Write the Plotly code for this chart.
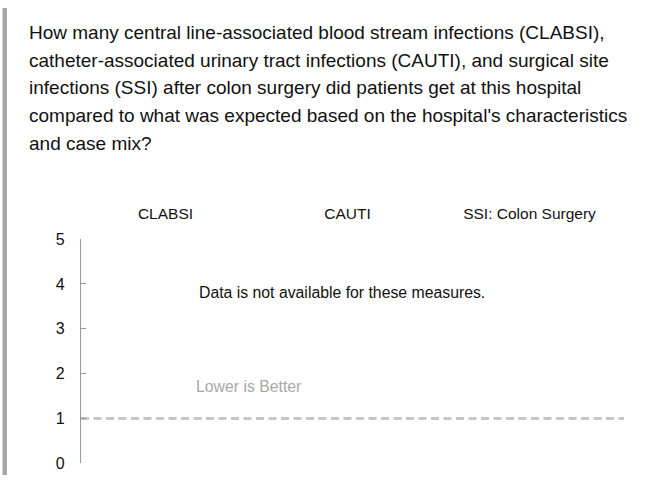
import plotly.graph_objects as go

W, H = 647, 484

title_lines = [
    "How many central line-associated blood stream infections (CLABSI),",
    "catheter-associated urinary tract infections (CAUTI), and surgical site",
    "infections (SSI) after colon surgery did patients get at this hospital",
    "compared to what was expected based on the hospital's characteristics",
    "and case mix?",
]
categories = ["CLABSI", "CAUTI", "SSI: Colon Surgery"]
y_ticks = [0, 1, 2, 3, 4, 5]
reference_value = 1
no_data_message = "Data is not available for these measures."
direction_note = "Lower is Better"

FONT = "Liberation Sans, Arial, sans-serif"

def px_x(p):
    return p / W

def px_y(p):
    return 1 - p / H

X_RANGE = [-0.464, 2.519]

fig = go.Figure()

# reference line (expected = 1)
fig.add_trace(go.Scatter(
    x=X_RANGE, y=[reference_value, reference_value],
    mode="lines", line=dict(color="#c6c6c6", width=3, dash="8px,4.5px"),
    hoverinfo="skip", showlegend=False,
))

annotations = []
for i, line in enumerate(title_lines):
    annotations.append(dict(
        text=line, xref="paper", yref="paper", x=px_x(28), y=px_y(25.5 + 28.7 * i),
        xanchor="left", yanchor="middle", showarrow=False, borderpad=0,
        font=dict(family=FONT, size=19, color="#111111"),
    ))

annotations.append(dict(
    text=no_data_message, xref="x", yref="y", x=0.97, y=3.8,
    xanchor="center", yanchor="middle", showarrow=False,
    font=dict(family=FONT, size=15.8, color="#111111"),
))
annotations.append(dict(
    text=direction_note, xref="x", yref="y", x=0.158, y=1.72,
    xanchor="left", yanchor="middle", showarrow=False,
    font=dict(family=FONT, size=15.8, color="#a8a8a8"),
))

fig.update_layout(
    width=W, height=H,
    margin=dict(l=0, r=0, t=0, b=0),
    paper_bgcolor="white", plot_bgcolor="white",
    showlegend=False,
    annotations=annotations,
    shapes=[dict(type="rect", xref="paper", yref="paper",
                 x0=px_x(2.5), x1=px_x(7), y0=0, y1=1,
                 fillcolor="#a7a7ab", line=dict(width=0), layer="above")],
    xaxis=dict(
        domain=[px_x(81), px_x(624)],
        range=X_RANGE,
        side="top",
        tickmode="array", tickvals=list(range(len(categories))), ticktext=categories,
        ticks="", showline=False, showgrid=False, zeroline=False,
        tickfont=dict(family=FONT, size=15.5, color="#111111"),
        ticklabelstandoff=16,
        fixedrange=True,
    ),
    yaxis=dict(
        domain=[px_y(472), px_y(239.5)],
        range=[0, 5],
        tickmode="array", tickvals=y_ticks,
        ticks="inside", ticklen=5, tickcolor="#999999", tickwidth=1.3,
        showline=True, linecolor="#999999", linewidth=1.3,
        showgrid=False, zeroline=False,
        tickfont=dict(family=FONT, size=16, color="#111111"),
        ticklabelstandoff=12,
        fixedrange=True,
    ),
)

fig.write_html("out.html", config={"displayModeBar": False},
               post_script="document.body.style.margin='0';document.body.style.overflow='hidden';")
